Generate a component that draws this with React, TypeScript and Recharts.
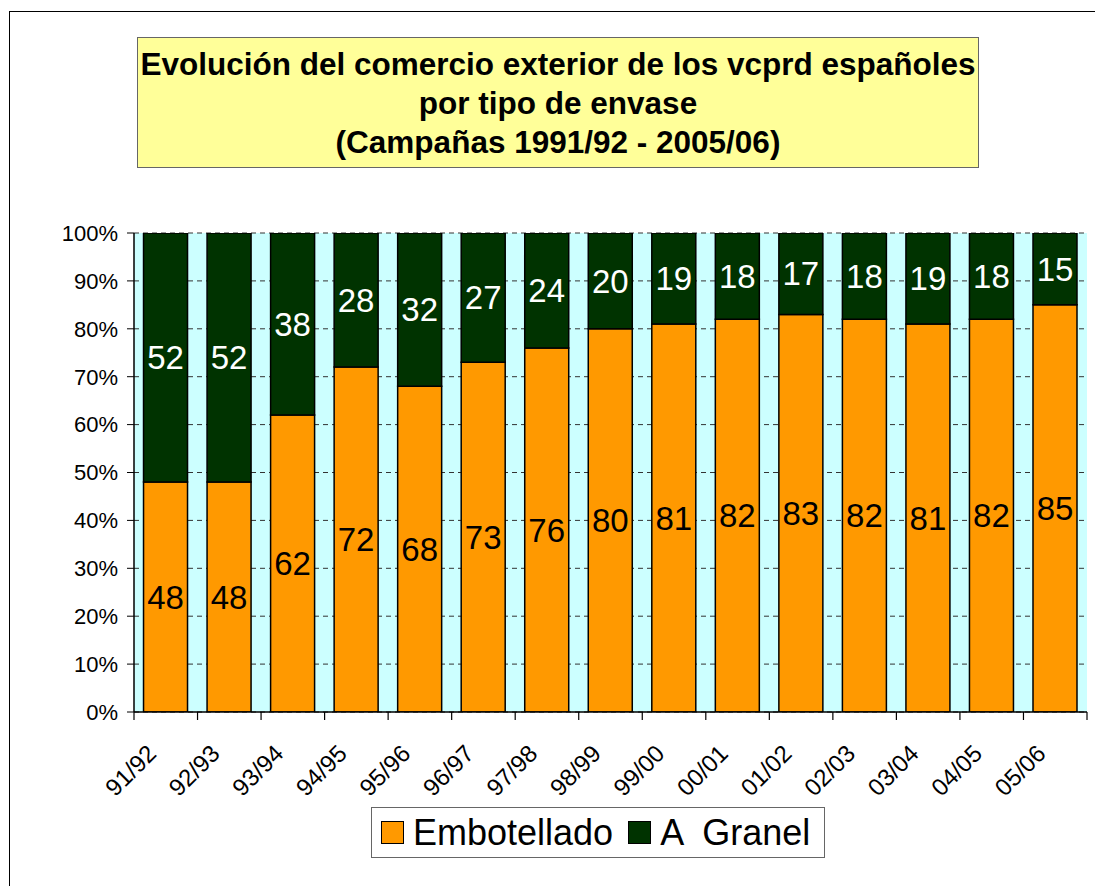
import React from 'react';
import { BarChart, Bar, XAxis, YAxis, CartesianGrid, LabelList } from 'recharts';

const categories = ['91/92', '92/93', '93/94', '94/95', '95/96', '96/97', '97/98', '98/99', '99/00', '00/01', '01/02', '02/03', '03/04', '04/05', '05/06'];
const embotellado = [48, 48, 62, 72, 68, 73, 76, 80, 81, 82, 83, 82, 81, 82, 85];
const granel = [52, 52, 38, 28, 32, 27, 24, 20, 19, 18, 17, 18, 19, 18, 15];
const yTicks = [0, 10, 20, 30, 40, 50, 60, 70, 80, 90, 100];

const data = categories.map((name, i) => ({ name, embotellado: embotellado[i], granel: granel[i] }));

const FONT = '"Liberation Sans", Arial, sans-serif';
const ORANGE = '#FF9900';
const GREEN = '#003300';

const XTick = (props: any) => {
  const { x, y, payload, index } = props;
  const half = payload?.offset ?? 31.77;
  const tx = x - 8;
  const ty = y + 43;
  return (
    <g>
      <line x1={x - half} y1={y} x2={x - half} y2={y + 8} stroke="#000" strokeWidth={1.2} />
      {index === categories.length - 1 && (
        <line x1={x + half} y1={y} x2={x + half} y2={y + 8} stroke="#000" strokeWidth={1.2} />
      )}
      <text x={tx} y={ty} textAnchor="end" fontSize={24} fontFamily={FONT} fill="#000" transform={`rotate(-45, ${tx}, ${ty})`}>
        {payload.value}
      </text>
    </g>
  );
};

export default function App() {
  return (
    <div style={{ position: 'absolute', left: 0, top: 0, width: 1095, height: 886, background: '#fff', overflow: 'hidden', fontFamily: FONT }}>
      <div style={{ position: 'absolute', left: 9, top: 11, width: 1200, height: 1000, border: '1px solid #000' }} />
      <BarChart
        width={1095}
        height={886}
        data={data}
        margin={{ top: 233, right: 8, bottom: 94, left: 74 }}
        barCategoryGap="15%"
        style={{ position: 'absolute', left: 0, top: 0 }}
      >
        <CartesianGrid
          xAxisId="main"
          yAxisId="left"
          vertical={false}
          fill="#CCFFFF"
          fillOpacity={1}
          stroke="#333"
          strokeDasharray="5 4"
        />
        <XAxis
          xAxisId="main"
          dataKey="name"
          height={80}
          tickLine={false}
          tickSize={0}
          tickMargin={0}
          interval={0}
          axisLine={{ stroke: '#000', strokeWidth: 1.5 }}
          tick={<XTick />}
        />
        <XAxis xAxisId="top" dataKey="name" orientation="top" height={0} tick={false} tickLine={false} axisLine={{ stroke: '#999' }} />
        <YAxis
          yAxisId="left"
          domain={[0, 100]}
          ticks={yTicks}
          width={60}
          tickSize={7}
          tickMargin={9}
          tickFormatter={(v) => `${v}%`}
          tick={{ fill: '#000', fontSize: 22, fontFamily: FONT }}
          tickLine={{ stroke: '#000' }}
          axisLine={{ stroke: '#000', strokeWidth: 1.5 }}
          allowDataOverflow
        />
        <YAxis yAxisId="right" orientation="right" width={0} tick={false} tickLine={false} axisLine={{ stroke: '#999' }} />
        <Bar xAxisId="main" yAxisId="left" dataKey="embotellado" stackId="a" fill={ORANGE} stroke="#000" strokeWidth={1.5} isAnimationActive={false}>
          <LabelList dataKey="embotellado" position="center" fill="#000" fontSize={33} fontFamily={FONT} />
        </Bar>
        <Bar xAxisId="main" yAxisId="left" dataKey="granel" stackId="a" fill={GREEN} stroke="#000" strokeWidth={1.5} isAnimationActive={false}>
          <LabelList dataKey="granel" position="center" fill="#fff" fontSize={33} fontFamily={FONT} />
        </Bar>
      </BarChart>

      <div
        style={{
          position: 'absolute',
          left: 137,
          top: 37,
          width: 842,
          height: 131,
          background: '#FFFF99',
          border: '1px solid #666',
          boxSizing: 'border-box',
          textAlign: 'center',
          fontWeight: 'bold',
          fontSize: 31.5,
          lineHeight: '39px',
          paddingTop: 7,
          color: '#000',
          whiteSpace: 'nowrap',
        }}
      >
        <div>Evolución del comercio exterior de los vcprd españoles</div>
        <div>por tipo de envase</div>
        <div>(Campañas 1991/92 - 2005/06)</div>
      </div>

      <div
        style={{
          position: 'absolute',
          left: 371,
          top: 807,
          width: 454,
          height: 51,
          border: '1px solid #666',
          boxSizing: 'border-box',
          background: '#fff',
          display: 'flex',
          alignItems: 'center',
          fontSize: 36,
          color: '#000',
          whiteSpace: 'pre',
        }}
      >
        <span style={{ display: 'inline-block', width: 21, height: 21, background: ORANGE, border: '1px solid #000', marginLeft: 9, marginRight: 9 }} />
        <span>Embotellado</span>
        <span style={{ display: 'inline-block', width: 21, height: 21, background: GREEN, border: '1px solid #000', marginLeft: 15, marginRight: 9 }} />
        <span>A  Granel</span>
      </div>
    </div>
  );
}
